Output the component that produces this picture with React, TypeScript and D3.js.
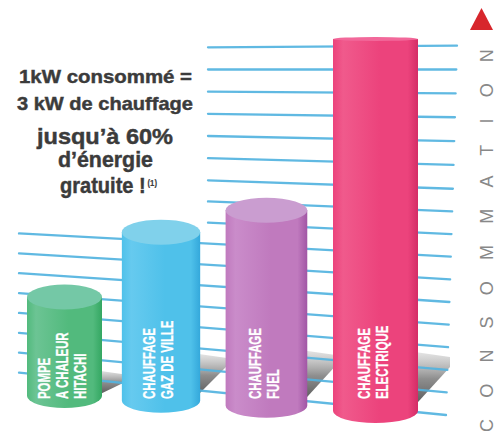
import React from 'react';
import * as d3 from 'd3';

// ---- data ----
const categories = ['pompe', 'gaz', 'fuel', 'electrique'];
const barLabels = [
  ['POMPE', 'A CHALEUR', 'HITACHI'],
  ['CHAUFFAGE', 'GAZ DE VILLE'],
  ['CHAUFFAGE', 'FUEL'],
  ['CHAUFFAGE', 'ELECTRIQUE'],
];
const consumption = [32, 50, 57, 100];
const gridLevels = [0, 1, 2, 3, 4, 5, 6, 7, 8, 9, 10, 11, 12, 13, 14, 15, 16];
const headline = ['1kW consommé =', '3 kW de chauffage'];
const promise = ['jusqu’à 60%', 'd’énergie', 'gratuite !'];
const footnote = '(1)';
const axisTitle = 'CONSOMMATION';

// ---- styles ----
const palette = [
  { top: '#74c8a6', light: '#6cc494', mid: '#52ba7d', dark: '#34a762' },
  { top: '#80d1eb', light: '#66caef', mid: '#4fc1ea', dark: '#34a8db' },
  { top: '#ca9dd0', light: '#ca8cca', mid: '#c07abe', dark: '#a156a5' },
  { top: '#f2689a', light: '#f05a8c', mid: '#ec437c', dark: '#d42c66' },
];
const FONT = "'Liberation Sans', Arial, Helvetica, sans-serif";

export default function App() {
  const W = 503;
  const H = 434;
  const n = consumption.length;

  const xC = d3.scalePow().exponent(1.065).domain([0, n - 1]).range([64.5, 375.5]);
  const wS = d3.scaleLinear().domain([0, n - 1]).range([75, 85]);
  const baseY = d3.scaleLinear().domain([64.5, 375.5]).range([408, 423]);
  const hS = d3.scaleLinear().domain([0, 100]).range([0, 386]);
  const topRy = d3.scaleLinear().domain([60, 100]).range([12.5, 2]).clamp(true);
  const ryB = 12;

  // perspective grid
  const gridY0 = d3.scaleLinear().domain([0, 6, 16]).range([46.6, 184, 402]);
  const VX = -3037, X0 = 315, YC = 69;
  const persp = (x: number, y0: number) => YC + ((y0 - YC) * (x - VX)) / (X0 - VX);
  const xStart = (k: number) => (k <= 8 ? 208 : 19);
  const xEnd = d3.scaleLinear().domain([0, 16]).range([457, 446]);
  const lineGen = d3.line();

  const bars = categories.map((c, i) => {
    const cx = xC(i);
    const w = wS(i);
    const x0 = cx - w / 2;
    const x1 = cx + w / 2;
    const yb = baseY(cx);
    const h = hS(consumption[i]);
    const ryT = topRy(consumption[i]);
    const topEdge = yb - h;
    const topCy = topEdge + ryT;
    const botCy = yb - ryB;
    const body = `M${x0},${topCy} L${x0},${botCy} A${w / 2},${ryB} 0 0 0 ${x1},${botCy} L${x1},${topCy} Z`;
    const sTop = yb - Math.min(0.31 * h, 72);
    const shadow = [
      [x1 - 10, yb - 10],
      [x1 - 10, sTop],
      [x1 + 32, sTop + 6],
      [x1 + 32, Math.max(sTop + 8, yb - 56)],
    ];
    return { c, i, cx, w, x0, x1, yb, h, ryT, topCy, botCy, body, shadow };
  });

  const labelSize = 17;
  const cap = 0.716 * labelSize;
  const pitch = 18;

  const heavy = { stroke: '#3b3b3b', strokeWidth: 0.45 };

  return (
    <svg
      width={W}
      height={H}
      viewBox={`0 0 ${W} ${H}`}
      style={{ position: 'absolute', left: 0, top: 0, background: '#fff' }}
    >
      <defs>
        {bars.map((b) => (
          <linearGradient key={b.c} id={`body-${b.c}`} x1="0" x2="1" y1="0" y2="0">
            <stop offset="0" stopColor={palette[b.i].mid} />
            <stop offset="0.12" stopColor={palette[b.i].light} />
            <stop offset="0.55" stopColor={palette[b.i].mid} />
            <stop offset="0.88" stopColor={palette[b.i].mid} />
            <stop offset="1" stopColor={palette[b.i].dark} />
          </linearGradient>
        ))}
        <linearGradient id="shadowGrad" x1="0" x2="0" y1="0" y2="1">
          <stop offset="0" stopColor="#dcdcdc" stopOpacity="0.7" />
          <stop offset="0.45" stopColor="#8e8e8e" />
          <stop offset="1" stopColor="#4a4a4a" />
        </linearGradient>
      </defs>
      <rect x={0} y={0} width={W} height={H} fill="#ffffff" />

      {/* shadows */}
      {bars.map((b) => (
        <polygon
          key={`s-${b.c}`}
          points={b.shadow.map((p) => p.join(',')).join(' ')}
          fill="url(#shadowGrad)"
        />
      ))}

      {/* perspective grid lines */}
      {gridLevels.map((k) => {
        const y0 = gridY0(k);
        const xs = xStart(k);
        const xe = xEnd(k);
        const d = lineGen([
          [xs, persp(xs, y0)],
          [xe, persp(xe, y0)],
        ]);
        return (
          <path
            key={`g-${k}`}
            d={d || ''}
            stroke="#52b3e0"
            strokeWidth={2.3}
            strokeLinecap="round"
            fill="none"
            opacity={0.92}
          />
        );
      })}

      {/* cylinders */}
      {bars.map((b) => (
        <g key={`b-${b.c}`}>
          <path d={b.body} fill={`url(#body-${b.c})`} />
          <ellipse cx={b.cx} cy={b.topCy} rx={b.w / 2} ry={b.ryT} fill={palette[b.i].top} />
          {barLabels[b.i].map((t, j) => {
            const m = barLabels[b.i].length;
            const blockW = (m - 1) * pitch + cap;
            const bx = b.cx - 3 - blockW / 2 + cap + j * pitch;
            return (
              <text
                key={j}
                transform={`translate(${bx},399) rotate(-90) scale(0.67,1)`}
                fontFamily={FONT}
                fontWeight="bold"
                fontSize={labelSize}
                fill="#ffffff"
                stroke="#ffffff"
                strokeWidth={0.3}
              >
                {t}
              </text>
            );
          })}
        </g>
      ))}

      {/* left text block */}
      <g fontFamily={FONT} fontWeight="bold" fill="#3b3b3b">
        <text x={19} y={83} fontSize={19} textLength={173} lengthAdjust="spacingAndGlyphs" {...heavy}>
          {headline[0]}
        </text>
        <text x={17} y={110} fontSize={19} textLength={176} lengthAdjust="spacingAndGlyphs" {...heavy}>
          {headline[1]}
        </text>
        <text x={37} y={144} fontSize={22} textLength={136} lengthAdjust="spacingAndGlyphs" {...heavy}>
          {promise[0]}
        </text>
        <text x={58} y={167} fontSize={22} textLength={95} lengthAdjust="spacingAndGlyphs" {...heavy}>
          {promise[1]}
        </text>
        <text x={60} y={193} fontSize={22} textLength={97} lengthAdjust="spacingAndGlyphs" {...heavy}>
          {promise[2]}
          <tspan dx={2} dy={-7} fontSize={8.5} strokeWidth={0.15}>
            {footnote}
          </tspan>
        </text>
      </g>

      {/* vertical axis title */}
      <polygon points="470,30 493,30 481.5,8" fill="#d7262c" />
      <text
        transform="translate(493,432) rotate(-90)"
        fontFamily={FONT}
        fontSize={18}
        letterSpacing={21.2}
        fill="#888888"
      >
        {axisTitle}
      </text>
    </svg>
  );
}
